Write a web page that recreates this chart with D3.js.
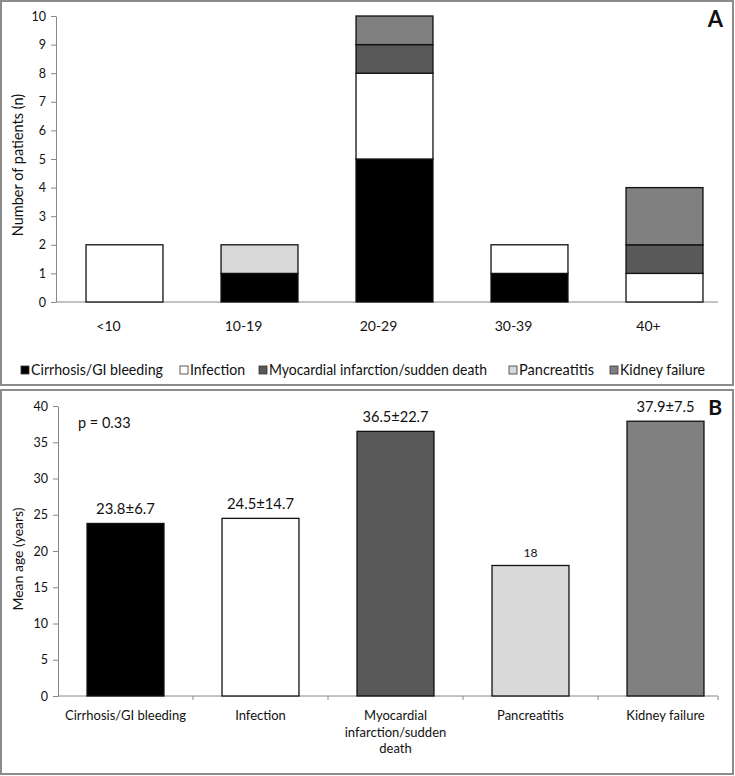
<html>
<head>
<script src="https://d3js.org/d3.v7.min.js"></script>
<style>
  body { margin: 0; background: #fff; }
  text { font-family: Lato, "Open Sans", sans-serif; fill: #111; }
</style>
</head>
<body>
<svg id="chart" width="735" height="776"></svg>
<script>
// panel A data: number of patients per age group, stacked by cause of death
var ageGroups = ["<10", "10-19", "20-29", "30-39", "40+"];
var causes = ["Cirrhosis/GI bleeding", "Infection", "Myocardial infarction/sudden death", "Pancreatitis", "Kidney failure"];
var cirrhosisCounts    = [0, 1, 5, 1, 0];
var infectionCounts    = [2, 0, 3, 1, 1];
var myocardialCounts   = [0, 0, 1, 0, 1];
var pancreatitisCounts = [0, 1, 0, 0, 0];
var kidneyCounts       = [0, 0, 1, 0, 2];
var countTicks = [0, 1, 2, 3, 4, 5, 6, 7, 8, 9, 10];

// panel B data: mean age per cause
var meanAge = [23.8, 24.5, 36.5, 18, 37.9];
var meanLabels = ["23.8±6.7", "24.5±14.7", "36.5±22.7", "18", "37.9±7.5"];
var ageTicks = [0, 5, 10, 15, 20, 25, 30, 35, 40];

var colors = ["#000000", "#ffffff", "#595959", "#d9d9d9", "#808080"];
var axisColor = "#888";

var svg = d3.select("#chart");

// panel frames
svg.append("rect").attr("x", 1).attr("y", 1).attr("width", 732).attr("height", 384)
  .attr("fill", "none").attr("stroke", "#8c8c8c").attr("stroke-width", 2);
svg.append("rect").attr("x", 1).attr("y", 390).attr("width", 732).attr("height", 384)
  .attr("fill", "none").attr("stroke", "#8c8c8c").attr("stroke-width", 2);

// ---------- panel A ----------
var xA = d3.scaleBand().domain(ageGroups).range([57, 732]).paddingInner(0.43).paddingOuter(0.215);
var yA = d3.scaleLinear().domain([0, 10]).range([302, 16]);

var table = ageGroups.map(function(g, i) {
  return { group: g, c0: cirrhosisCounts[i], c1: infectionCounts[i], c2: myocardialCounts[i],
           c3: pancreatitisCounts[i], c4: kidneyCounts[i] };
});
var stacked = d3.stack().keys(["c0", "c1", "c2", "c3", "c4"])(table);

var gA = svg.append("g");
var yAxisA = gA.append("g").attr("transform", "translate(56,0)")
  .call(d3.axisLeft(yA).tickValues(countTicks).tickSize(5).tickSizeOuter(0));
yAxisA.selectAll("line, path").attr("stroke", axisColor);
yAxisA.selectAll("text").style("font-size", "12.5px").attr("fill", "#111").attr("dx", "-2");

gA.append("line").attr("x1", 56).attr("x2", 718).attr("y1", 302).attr("y2", 302).attr("stroke", axisColor);

stacked.forEach(function(layer, k) {
  gA.append("g").selectAll("rect")
    .data(layer.filter(function(d) { return d[1] > d[0]; }))
    .enter().append("rect")
      .attr("x", function(d) { return xA(d.data.group); })
      .attr("width", xA.bandwidth())
      .attr("y", function(d) { return yA(d[1]); })
      .attr("height", function(d) { return yA(d[0]) - yA(d[1]); })
      .attr("fill", colors[k])
      .attr("stroke", "#111").attr("stroke-width", 1.3);
});

// category labels sit a little left of the bar centres in the original
gA.selectAll(".catA").data(ageGroups).enter().append("text")
  .attr("x", function(d) { return xA(d) + xA.bandwidth() / 2 - 16; })
  .attr("y", 331).attr("text-anchor", "middle").style("font-size", "14px")
  .text(function(d) { return d; });

gA.append("text").attr("transform", "translate(23,165) rotate(-90)")
  .attr("text-anchor", "middle").style("font-size", "14.5px").text("Number of patients (n)");

gA.append("text").attr("x", 723).attr("y", 27).attr("text-anchor", "end")
  .style("font-size", "22px").style("font-weight", "bold").text("A");

// legend
var legendX = [21, 180, 259, 509, 610];
var legendW = [132, 55, 218, 75, 85];
var legend = gA.selectAll(".leg").data(causes).enter().append("g")
  .attr("transform", function(d, i) { return "translate(" + legendX[i] + ",366)"; });
legend.append("rect").attr("width", 8).attr("height", 8)
  .attr("fill", function(d, i) { return colors[i]; }).attr("stroke", "#333").attr("stroke-width", 0.8);
legend.append("text").attr("x", 10).attr("y", 8.5).style("font-size", "15px")
  .attr("textLength", function(d, i) { return legendW[i]; })
  .attr("lengthAdjust", "spacingAndGlyphs")
  .text(function(d) { return d; });

// ---------- panel B ----------
var xB = d3.scaleBand().domain(causes).range([58, 733]).paddingInner(0.43).paddingOuter(0.215);
var yB = d3.scaleLinear().domain([0, 40]).range([696, 406]);

var gB = svg.append("g");
var yAxisB = gB.append("g").attr("transform", "translate(58,0)")
  .call(d3.axisLeft(yB).tickValues(ageTicks).tickSize(5).tickSizeOuter(0));
yAxisB.selectAll("line, path").attr("stroke", axisColor);
yAxisB.selectAll("text").style("font-size", "12.5px").attr("fill", "#111").attr("dx", "-2");

gB.append("line").attr("x1", 58).attr("x2", 718).attr("y1", 696).attr("y2", 696).attr("stroke", axisColor);
var tickXs = causes.map(function(c) { return xB(c) - xB.step() * 0.215; }).concat([718]);
gB.selectAll(".tickB").data(tickXs.slice(1)).enter().append("line")
  .attr("x1", function(d) { return d; }).attr("x2", function(d) { return d; })
  .attr("y1", 696).attr("y2", 700).attr("stroke", axisColor);

gB.selectAll(".barB").data(causes).enter().append("rect")
  .attr("x", function(d) { return xB(d); })
  .attr("width", xB.bandwidth())
  .attr("y", function(d, i) { return yB(meanAge[i]); })
  .attr("height", function(d, i) { return yB(0) - yB(meanAge[i]); })
  .attr("fill", function(d, i) { return colors[i]; })
  .attr("stroke", "#111").attr("stroke-width", 1.3);

var valueW = [59, 67, 66, 14, 58];
gB.selectAll(".valB").data(meanLabels).enter().append("text")
  .attr("x", function(d, i) { return xB(causes[i]) + xB.bandwidth() / 2; })
  .attr("y", function(d, i) { return yB(meanAge[i]) - 9; })
  .attr("text-anchor", "middle")
  .style("font-size", function(d) { return d === "18" ? "12px" : "15px"; })
  .attr("textLength", function(d, i) { return valueW[i]; })
  .attr("lengthAdjust", "spacingAndGlyphs")
  .text(function(d) { return d; });

var catLinesB = [["Cirrhosis/GI bleeding"], ["Infection"], ["Myocardial", "infarction/sudden", "death"], ["Pancreatitis"], ["Kidney failure"]];
var catText = gB.selectAll(".catB").data(catLinesB).enter().append("text")
  .attr("text-anchor", "middle").style("font-size", "13px")
  .attr("transform", function(d, i) { return "translate(" + (xB(causes[i]) + xB.bandwidth() / 2) + ",720)"; });
catText.selectAll("tspan").data(function(d) { return d; }).enter().append("tspan")
  .attr("x", 0).attr("y", function(d, j) { return j * 16.5; })
  .text(function(d) { return d; });

gB.append("text").attr("transform", "translate(23,559) rotate(-90)")
  .attr("text-anchor", "middle").style("font-size", "14px").text("Mean age (years)");

gB.append("text").attr("x", 78).attr("y", 428).style("font-size", "14.5px").text("p = 0.33");

gB.append("text").attr("x", 722).attr("y", 415).attr("text-anchor", "end")
  .style("font-size", "21px").style("font-weight", "bold").text("B");
</script>
</body>
</html>
